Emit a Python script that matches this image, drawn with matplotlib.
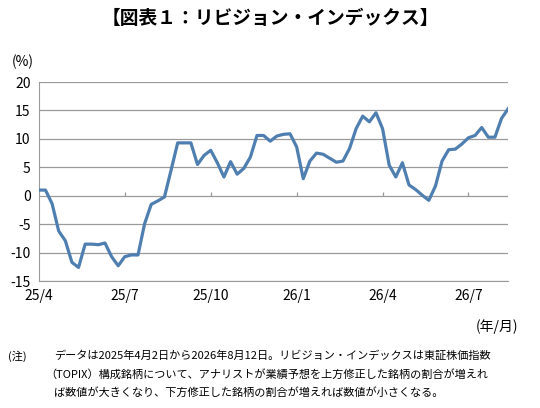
import matplotlib
matplotlib.use("Agg")
import matplotlib.pyplot as plt

plt.rcParams['font.family'] = ['Noto Sans CJK JP', 'DejaVu Sans']

values = [1.0, 1.0, -1.4, -6.2, -7.9, -11.7, -12.6, -8.5, -8.5, -8.6, -8.3, -10.7,
          -12.3, -10.7, -10.4, -10.4, -4.9, -1.5, -0.9, -0.2, 4.5, 9.3, 9.3, 9.3,
          5.5, 7.1, 8.0, 5.8, 3.3, 6.0, 3.8, 4.8, 6.8, 10.6, 10.6, 9.6, 10.5, 10.8,
          10.9, 8.6, 3.0, 6.1, 7.5, 7.3, 6.6, 5.9, 6.1, 8.3, 11.8, 14.0, 13.0, 14.6,
          11.8, 5.4, 3.3, 5.8, 1.9, 1.1, 0.1, -0.8, 1.7, 6.1, 8.1, 8.2, 9.1, 10.2,
          10.6, 12.0, 10.3, 10.3, 13.6, 15.3]
tick_labels = ['25/4', '25/7', '25/10', '26/1', '26/4', '26/7']
tick_pos = [0, 13, 26, 39, 52, 65]
yticks = [20, 15, 10, 5, 0, -5, -10, -15]

fig = plt.figure(figsize=(5.4, 4.08), dpi=100)
ax = fig.add_axes([0.072, 0.311, 0.869, 0.488])
x = list(range(len(values)))
ax.plot(x, values, color='#4f7fb0', lw=2.3, zorder=3)
ax.set_xlim(0, len(values) - 1)
ax.set_ylim(-15, 20)
ax.set_yticks(yticks)
ax.set_yticklabels([str(v) for v in yticks], fontsize=10)
ax.yaxis.grid(True, color='#9a9a9a', lw=0.9)
ax.set_axisbelow(True)
ax.set_xticks(tick_pos)
ax.set_xticklabels(tick_labels, fontsize=10)
ax.tick_params(axis='x', length=0, pad=6)
ax.tick_params(axis='y', length=0, pad=6)
ax.vlines(tick_pos[1:], 0, 0.7, color='#9a9a9a', lw=0.9)
for s in ['top', 'right']:
    ax.spines[s].set_visible(False)
ax.spines['left'].set_color('#9a9a9a')
ax.spines['bottom'].set_color('#9a9a9a')

fig.text(0.5, 0.955, '【図表１：リビジョン・インデックス】', ha='center', va='center',
         fontsize=13.5, fontweight='bold')
fig.text(0.022, 0.848, '(%)', fontsize=10, va='center')
fig.text(0.96, 0.2, '(年/月)', fontsize=10, ha='right', va='center')
fig.text(0.015, 0.128, '(注)', fontsize=8, va='center')
fig.text(0.1, 0.128, 'データは2025年4月2日から2026年8月12日。リビジョン・インデックスは東証株価指数',
         fontsize=8, va='center')
fig.text(0.083, 0.083, '（TOPIX）構成銘柄について、アナリストが業績予想を上方修正した銘柄の割合が増えれ',
         fontsize=8, va='center')
fig.text(0.1, 0.038, 'ば数値が大きくなり、下方修正した銘柄の割合が増えれば数値が小さくなる。',
         fontsize=8, va='center')
fig.savefig('out.png', dpi=100)
